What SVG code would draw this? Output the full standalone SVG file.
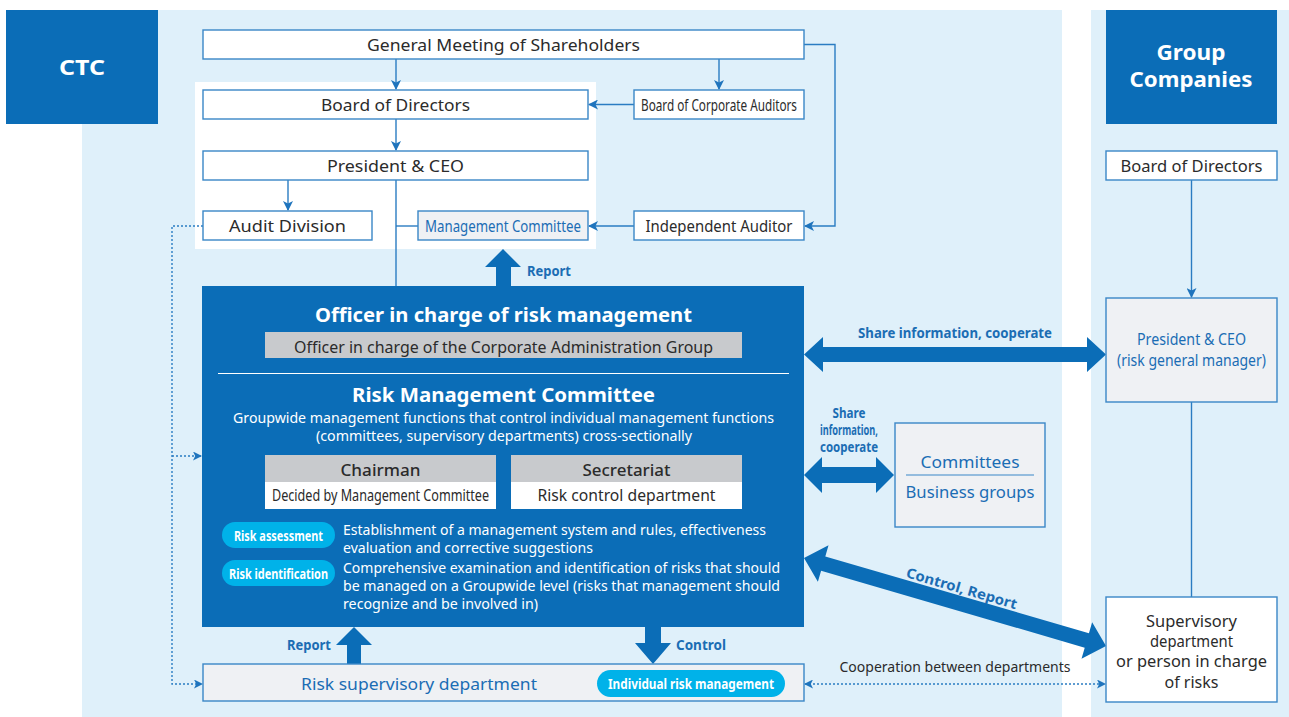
<svg xmlns="http://www.w3.org/2000/svg" width="1289" height="717" viewBox="0 0 1289 717">
  <defs>
    <style>
      text { font-family: "Noto Sans", "Open Sans", "Liberation Sans", sans-serif; }
      .panel { fill: #dff0fa; }
      .head { fill: #0b6db7; }
      .box { fill: #ffffff; stroke: #3a87c7; stroke-width: 1.4; }
      .gbox { fill: #eff1f4; stroke: #3a87c7; stroke-width: 1.4; }
      .t { font-size: 17px; fill: #2b2b2b; text-anchor: middle; }
      .tb { font-size: 17px; fill: #1b6db4; text-anchor: middle; }
      .tw { fill: #ffffff; text-anchor: middle; font-weight: 700; }
      .desc { font-size: 14.5px; fill: #ffffff; }
      .lab { font-size: 14px; font-weight: 700; fill: #1b6db4; }
      .pill { fill: #00b2e9; }
      .ptxt { font-size: 14px; font-weight: 700; fill: #ffffff; text-anchor: middle; }
      .ln { fill: none; stroke: #2a7cc2; stroke-width: 1.4; }
      .dot { fill: none; stroke: #2a7cc2; stroke-width: 1.4; stroke-dasharray: 2 2; }
      .big { fill: #0b6db7; }
    </style>
    <marker id="ah" markerWidth="10" markerHeight="10" refX="9" refY="5" orient="auto" markerUnits="userSpaceOnUse">
      <path d="M0,0 L10,5 L0,10 L2.5,5 Z" fill="#1f74bd"/>
    </marker>
    <marker id="ahs" markerWidth="9" markerHeight="9" refX="8" refY="4.5" orient="auto-start-reverse" markerUnits="userSpaceOnUse">
      <path d="M0,0 L9,4.5 L0,9 L2.2,4.5 Z" fill="#1f74bd"/>
    </marker>
  </defs>

  <!-- background panels -->
  <rect class="panel" x="82" y="10" width="980" height="707"/>
  <rect class="panel" x="1091" y="10" width="198" height="707"/>
  <rect fill="#ffffff" x="195" y="82" width="401" height="167"/>

  <g id="ctc-header">
    <rect class="head" x="6" y="10" width="152" height="114"/>
    <text class="tw" x="82" y="75" font-size="22" textLength="46" lengthAdjust="spacingAndGlyphs">CTC</text>
  </g>
  <g id="group-header">
    <rect class="head" x="1106" y="10" width="171" height="114"/>
    <text class="tw" x="1191" y="60" font-size="22" textLength="69" lengthAdjust="spacingAndGlyphs">Group</text>
    <text class="tw" x="1191" y="87" font-size="22" textLength="123" lengthAdjust="spacingAndGlyphs">Companies</text>
  </g>

  <!-- connectors -->
  <g id="connectors">
    <line class="ln" x1="396" y1="59" x2="396" y2="89" marker-end="url(#ah)"/>
    <line class="ln" x1="719" y1="59" x2="719" y2="89" marker-end="url(#ah)"/>
    <polyline class="ln" points="804,44.5 835,44.5 835,226 805,226" marker-end="url(#ah)"/>
    <line class="ln" x1="634" y1="104.5" x2="589" y2="104.5" marker-end="url(#ah)"/>
    <line class="ln" x1="396" y1="119" x2="396" y2="150" marker-end="url(#ah)"/>
    <line class="ln" x1="288" y1="180" x2="288" y2="210" marker-end="url(#ah)"/>
    <line class="ln" x1="396" y1="180" x2="396" y2="287"/>
    <line class="ln" x1="396" y1="226" x2="418" y2="226"/>
    <line class="ln" x1="634" y1="226" x2="589" y2="226" marker-end="url(#ah)"/>
    <polyline class="dot" points="203,226 172,226 172,684 202,684" marker-end="url(#ahs)"/>
    <line class="dot" x1="172" y1="456" x2="201" y2="456" marker-end="url(#ahs)"/>
    <line class="dot" x1="805" y1="684" x2="1105" y2="684" marker-start="url(#ahs)" marker-end="url(#ahs)"/>
    <line class="ln" x1="1191.5" y1="180" x2="1191.5" y2="297" marker-end="url(#ah)"/>
    <line class="ln" x1="1191.5" y1="402" x2="1191.5" y2="597"/>

    <!-- thick arrows -->
    <polygon class="big" points="503,249 521,267 511,267 511,286 496,286 496,267 485,267"/>
    <polygon class="big" points="354,627 372,645 361,645 361,664 347,664 347,645 336,645"/>
    <polygon class="big" points="653,664 671,643 661,643 661,627 645,627 645,643 635,643"/>
    <polygon class="big" points="804,354.5 823,337 823,347 1087,347 1087,337 1106,354.5 1087,372 1087,362 823,362 823,372"/>
    <polygon class="big" points="804,475 822,457 822,467 876,467 876,457 894,475 876,493 876,483 822,483 822,493"/>
    <g transform="translate(804,558) rotate(16.25)">
      <polygon class="big" points="0,0 20,-19 20,-7.5 294.6,-7.5 294.6,-19 314.6,0 294.6,19 294.6,7.5 20,7.5 20,19"/>
      <text class="lab" x="160" y="-10" text-anchor="middle" textLength="115" lengthAdjust="spacingAndGlyphs">Control, Report</text>
    </g>

    <text class="lab" x="527" y="276" textLength="44" lengthAdjust="spacingAndGlyphs">Report</text>
    <text class="lab" x="331" y="650" text-anchor="end" textLength="44" lengthAdjust="spacingAndGlyphs">Report</text>
    <text class="lab" x="676" y="650" textLength="50" lengthAdjust="spacingAndGlyphs">Control</text>
    <text class="lab" x="955" y="338" text-anchor="middle" textLength="194" lengthAdjust="spacingAndGlyphs">Share information, cooperate</text>
    <text class="lab" x="849" y="418" text-anchor="middle" textLength="33" lengthAdjust="spacingAndGlyphs">Share</text>
    <text class="lab" x="849" y="435" text-anchor="middle" textLength="58" lengthAdjust="spacingAndGlyphs">information,</text>
    <text class="lab" x="849" y="452" text-anchor="middle" textLength="58" lengthAdjust="spacingAndGlyphs">cooperate</text>
    <text x="955" y="672" font-size="14.5" fill="#2b2b2b" text-anchor="middle" textLength="231" lengthAdjust="spacingAndGlyphs">Cooperation between departments</text>
  </g>

  <g id="general-meeting">
    <rect class="box" x="203" y="30" width="601" height="29"/>
    <text class="t" x="503.5" y="50.5" textLength="273" lengthAdjust="spacingAndGlyphs">General Meeting of Shareholders</text>
  </g>
  <g id="board-of-directors">
    <rect class="box" x="203" y="90" width="385" height="29"/>
    <text class="t" x="395.5" y="110.5" textLength="149" lengthAdjust="spacingAndGlyphs">Board of Directors</text>
  </g>
  <g id="board-of-corporate-auditors">
    <rect class="box" x="634" y="90" width="170" height="29"/>
    <text class="t" x="719" y="110.5" font-size="16" textLength="156" lengthAdjust="spacingAndGlyphs">Board of Corporate Auditors</text>
  </g>
  <g id="president-ceo">
    <rect class="box" x="203" y="151" width="385" height="29"/>
    <text class="t" x="395.5" y="171.5" textLength="137" lengthAdjust="spacingAndGlyphs">President &amp; CEO</text>
  </g>
  <g id="audit-division">
    <rect class="box" x="203" y="211" width="169" height="29"/>
    <text class="t" x="287.5" y="231.5" textLength="117" lengthAdjust="spacingAndGlyphs">Audit Division</text>
  </g>
  <g id="management-committee">
    <rect class="gbox" x="418" y="211" width="170" height="29"/>
    <text class="tb" x="503" y="231.5" font-size="16" textLength="156" lengthAdjust="spacingAndGlyphs">Management Committee</text>
  </g>
  <g id="independent-auditor">
    <rect class="box" x="634" y="211" width="170" height="29"/>
    <text class="t" x="719" y="231.5" textLength="147" lengthAdjust="spacingAndGlyphs">Independent Auditor</text>
  </g>

  <g id="risk-management">
    <rect class="big" x="202" y="286" width="602" height="341"/>
    <text class="tw" x="503.5" y="322" font-size="20" textLength="377" lengthAdjust="spacingAndGlyphs">Officer in charge of risk management</text>
    <rect fill="#c8cacd" x="265" y="332" width="477" height="26"/>
    <text class="t" x="503.5" y="352.5" font-size="16" fill="#231f20" textLength="419" lengthAdjust="spacingAndGlyphs">Officer in charge of the Corporate Administration Group</text>
    <line x1="218" y1="373.5" x2="789" y2="373.5" stroke="#ffffff" stroke-width="1.2"/>
    <text class="tw" x="503.5" y="402" font-size="20" textLength="303" lengthAdjust="spacingAndGlyphs">Risk Management Committee</text>
    <text class="desc" x="503.5" y="423" text-anchor="middle" textLength="541" lengthAdjust="spacingAndGlyphs">Groupwide management functions that control individual management functions</text>
    <text class="desc" x="504" y="441" text-anchor="middle" textLength="376" lengthAdjust="spacingAndGlyphs">(committees, supervisory departments) cross-sectionally</text>

    <g id="chairman">
      <rect fill="#c8cacd" x="265" y="455" width="231" height="27"/>
      <rect fill="#ffffff" x="265" y="482" width="231" height="27"/>
      <text class="t" x="380.5" y="475.5" font-size="16" font-weight="500" textLength="80" lengthAdjust="spacingAndGlyphs">Chairman</text>
      <text class="t" x="380.5" y="501" font-size="14.5" textLength="217" lengthAdjust="spacingAndGlyphs">Decided by Management Committee</text>
    </g>
    <g id="secretariat">
      <rect fill="#c8cacd" x="511" y="455" width="231" height="27"/>
      <rect fill="#ffffff" x="511" y="482" width="231" height="27"/>
      <text class="t" x="626.5" y="475.5" font-size="16" font-weight="500" textLength="88" lengthAdjust="spacingAndGlyphs">Secretariat</text>
      <text class="t" x="626.5" y="501" font-size="15" textLength="178" lengthAdjust="spacingAndGlyphs">Risk control department</text>
    </g>

    <rect class="pill" x="222" y="522" width="113" height="26" rx="13"/>
    <text class="ptxt" x="278.5" y="540.5" textLength="89" lengthAdjust="spacingAndGlyphs">Risk assessment</text>
    <rect class="pill" x="222" y="560" width="113" height="26" rx="13"/>
    <text class="ptxt" x="278.5" y="578.5" textLength="99" lengthAdjust="spacingAndGlyphs">Risk identification</text>
    <text class="desc" x="343" y="535" textLength="423" lengthAdjust="spacingAndGlyphs">Establishment of a management system and rules, effectiveness</text>
    <text class="desc" x="343" y="553" textLength="250" lengthAdjust="spacingAndGlyphs">evaluation and corrective suggestions</text>
    <text class="desc" x="343" y="572.5" textLength="437" lengthAdjust="spacingAndGlyphs">Comprehensive examination and identification of risks that should</text>
    <text class="desc" x="343" y="591" textLength="437" lengthAdjust="spacingAndGlyphs">be managed on a Groupwide level (risks that management should</text>
    <text class="desc" x="343" y="609" textLength="195" lengthAdjust="spacingAndGlyphs">recognize and be involved in)</text>
  </g>

  <g id="risk-supervisory-department">
    <rect class="gbox" x="203" y="664" width="601" height="37"/>
    <text class="tb" x="419" y="690" textLength="236" lengthAdjust="spacingAndGlyphs">Risk supervisory department</text>
    <rect class="pill" x="597" y="670" width="188" height="27" rx="13.5"/>
    <text class="ptxt" x="691" y="689" textLength="166" lengthAdjust="spacingAndGlyphs">Individual risk management</text>
  </g>

  <g id="committees-business-groups">
    <rect class="gbox" x="895" y="423" width="150" height="104"/>
    <text class="tb" x="970" y="468" textLength="99" lengthAdjust="spacingAndGlyphs">Committees</text>
    <line x1="906" y1="475" x2="1034" y2="475" stroke="#3a87c7" stroke-width="1.2"/>
    <text class="tb" x="970" y="498" textLength="129" lengthAdjust="spacingAndGlyphs">Business groups</text>
  </g>

  <g id="group-board-of-directors">
    <rect class="box" x="1106" y="151" width="171" height="29"/>
    <text class="t" x="1191.5" y="171.5" textLength="142" lengthAdjust="spacingAndGlyphs">Board of Directors</text>
  </g>
  <g id="group-president-ceo">
    <rect class="gbox" x="1106" y="298" width="171" height="104"/>
    <text class="tb" x="1191.5" y="345" font-size="14.5" textLength="109" lengthAdjust="spacingAndGlyphs">President &amp; CEO</text>
    <text class="tb" x="1191.5" y="366" font-size="14.5" textLength="149" lengthAdjust="spacingAndGlyphs">(risk general manager)</text>
  </g>
  <g id="group-supervisory-department">
    <rect class="box" x="1106" y="597" width="171" height="105"/>
    <text class="t" x="1191.5" y="627" font-size="14.5" textLength="91" lengthAdjust="spacingAndGlyphs">Supervisory</text>
    <text class="t" x="1191.5" y="647" font-size="14.5" textLength="83" lengthAdjust="spacingAndGlyphs">department</text>
    <text class="t" x="1191.5" y="667" font-size="14.5" textLength="151" lengthAdjust="spacingAndGlyphs">or person in charge</text>
    <text class="t" x="1191.5" y="688" font-size="14.5" textLength="54" lengthAdjust="spacingAndGlyphs">of risks</text>
  </g>
</svg>
